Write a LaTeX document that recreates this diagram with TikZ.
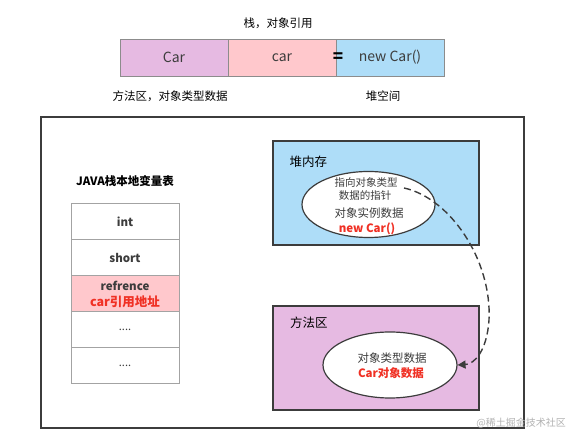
\documentclass[tikz,border=0pt]{standalone}
\usepackage{fontspec}
\setmainfont{Noto Sans CJK SC}
\usetikzlibrary{arrows.meta,shapes.geometric}
\definecolor{cpurple}{HTML}{E6BAE2}
\definecolor{cpink}{HTML}{FFC8CC}
\definecolor{cblue}{HTML}{AEDDF8}
\definecolor{cred}{HTML}{F03024}
\definecolor{cborder}{HTML}{8C8C8C}
\definecolor{cdark}{HTML}{3C3C3C}
\tikzset{
  cell/.style={draw=cborder, line width=0.9pt, minimum width=108pt, minimum height=37pt, inner sep=0pt, font=\fontsize{14}{16}\selectfont, text=cdark},
  row/.style={draw=cborder!80, line width=1pt, minimum width=108pt, minimum height=36pt, inner sep=0pt, font=\bfseries\fontsize{11.5}{13}\selectfont, text=cdark, align=center},
  lbl/.style={font=\fontsize{11.5}{13}\selectfont, text=black, inner sep=0pt},
  area/.style={draw=cdark, line width=1.3pt, minimum width=206pt, minimum height=104pt, inner sep=0pt},
  oval/.style={ellipse, draw=cdark, fill=white, line width=1.2pt, inner sep=0pt},
  otxt/.style={font=\fontsize{11.5}{13}\selectfont, inner sep=0pt, text=cdark},
}
\begin{document}
\begin{tikzpicture}[x=1pt,y=-1pt]
\useasboundingbox (0,0) rectangle (576,443);
\fill[white] (0,0) rectangle (576,443);
% top bar
\node[lbl] (title) at (278,23) {栈，对象引用};
\node[cell, fill=cpurple] (c1) at (174,57.5) {Car};
\node[cell, fill=cpink] (c2) at (282,57.5) {car};
\node[cell, fill=cblue] (c3) at (390,57.5) {new Car()};
\node[font=\bfseries\fontsize{17}{17}\selectfont, inner sep=0pt] (eq) at (338,58) {=};
\node[lbl] (l1) at (170,96) {方法区，对象类型数据};
\node[lbl] (l2) at (383,96) {堆空间};
% outer frame
\node[draw=cdark, line width=1.4pt, minimum width=483pt, minimum height=311pt, inner sep=0pt] (frame) at (282.5,272.5) {};
% stack table
\node[lbl, font=\bfseries\fontsize{11.5}{13}\selectfont] (stt) at (125,181) {JAVA栈本地变量表};
\node[row] (r1) at (125,222) {int};
\node[row] (r2) at (125,258) {short};
\node[row, fill=cpink, font=\bfseries\fontsize{11.5}{16}\selectfont] (r3) at (125,294) {refrence\\\textcolor{cred}{\fontsize{12.5}{16}\selectfont car引用地址}};
\node[row, font=\fontsize{11}{13}\selectfont] (r4) at (125,330) {....};
\node[row, font=\fontsize{11}{13}\selectfont] (r5) at (125,366) {....};
% heap
\node[area, fill=cblue] (heap) at (376,193) {};
\node[lbl, anchor=west, font=\fontsize{12.5}{14}\selectfont] (heapl) at (289.5,162) {堆内存};
\node[oval, minimum width=133pt, minimum height=66pt] (o1) at (368.5,204.5) {};
\node[otxt, font=\fontsize{10.5}{12}\selectfont] (t1) at (366,182) {指向对象类型};
\node[otxt, font=\fontsize{10.5}{12}\selectfont] (t2) at (365,195.5) {数据的指针};
\node[otxt] (t3) at (369,213) {对象实例数据};
\node[otxt, font=\bfseries\fontsize{11.5}{13}\selectfont, text=cred] (t4) at (367,229) {new Car()};
% method area
\node[area, fill=cpurple] (meth) at (376,358) {};
\node[lbl, anchor=west, font=\fontsize{12.5}{14}\selectfont] (methl) at (290,323) {方法区};
\node[oval, minimum width=134pt, minimum height=66pt] (o2) at (390,365) {};
\node[otxt] (t5) at (392,358) {对象类型数据};
\node[otxt, font=\bfseries\fontsize{11.5}{13}\selectfont, text=cred] (t6) at (391,373) {Car对象数据};
% dashed pointer
\coordinate (ps) at (404,188);
\draw[cdark, line width=1.4pt, dash pattern=on 7pt off 4pt, -{Triangle[length=8pt,width=8pt]}]
  (ps) .. controls (450,198) and (492,260) .. (489,320)
  .. controls (487,350) and (475,364) .. (o2.east);
% watermark
\node[font=\fontsize{10}{12}\selectfont, text=black!30, inner sep=0pt, anchor=east] (wm) at (566,423) {@稀土掘金技术社区};
\end{tikzpicture}
\end{document}
